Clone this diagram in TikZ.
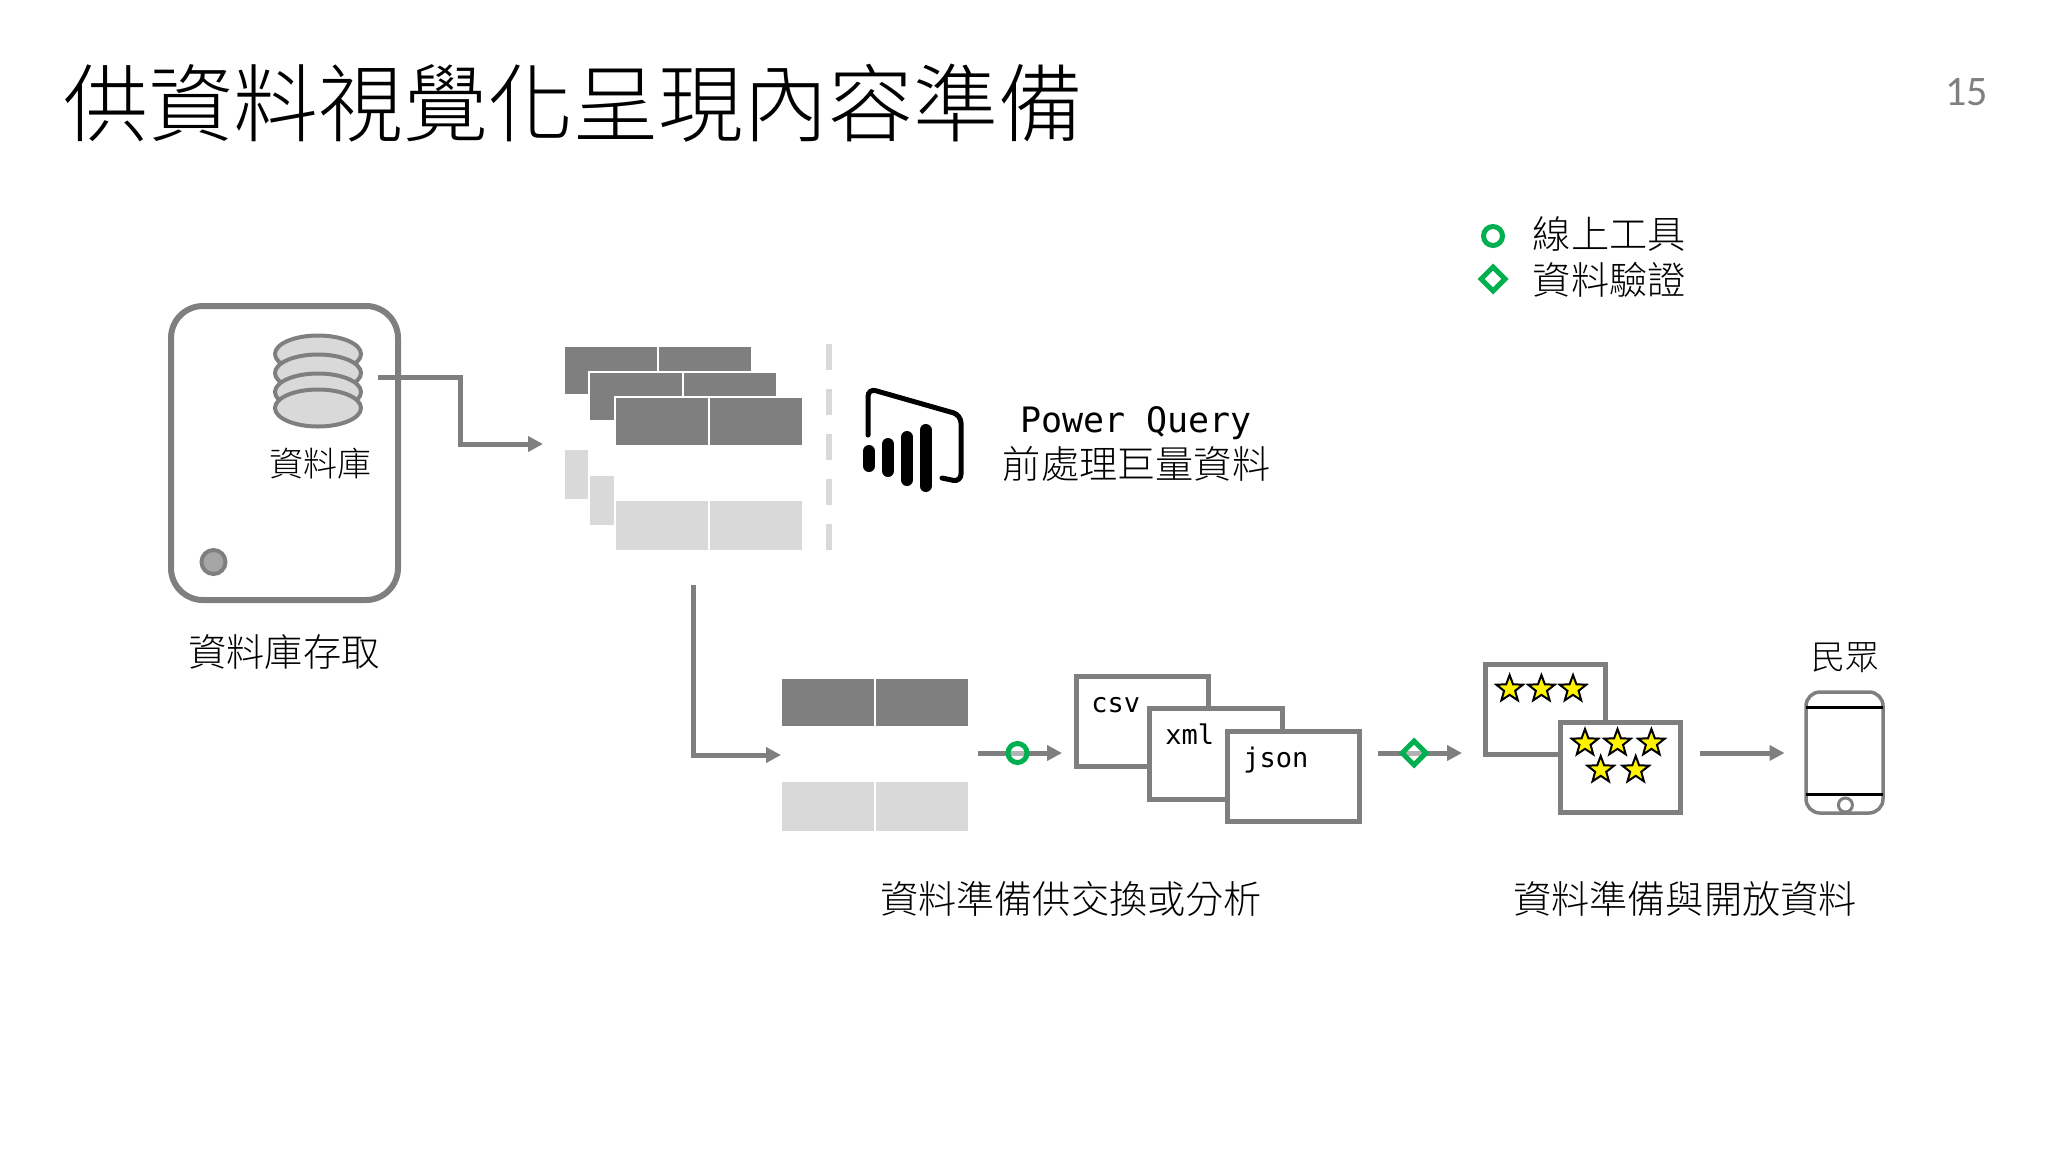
\documentclass[tikz,border=0pt]{standalone}
\usepackage{fontspec}
\usetikzlibrary{shapes,arrows,arrows.meta}
\setmonofont{DejaVu Sans Mono}
\setsansfont{Carlito}
\newfontfamily\cjk[UprightFont={* Light}]{Noto Sans CJK TC}
\definecolor{pgray}{HTML}{7F7F7F}
\definecolor{plight}{HTML}{D9D9D9}
\definecolor{pgreen}{HTML}{00B050}
\tikzstyle{input} = [coordinate]
\tikzstyle{output} = [coordinate]
\tikzstyle{link} = [draw=pgray, line width=2.5pt, ->]
\tikzstyle{label} = [inner sep=0pt, font=\cjk\fontsize{19.1}{19.1}\selectfont]
\tikzstyle{small} = [inner sep=0pt, font=\cjk\fontsize{17}{17}\selectfont]
\tikzstyle{code} = [inner sep=0pt, font=\ttfamily\fontsize{13.5}{13.5}\selectfont, anchor=base west]
\tikzstyle{device} = [draw=pgray, line width=3pt, rectangle, rounded corners=16pt,
    minimum width=113.5pt, minimum height=147pt]
\tikzstyle{disk} = [draw=pgray, fill=plight, line width=2pt, ellipse,
    minimum width=43pt, minimum height=18.5pt, inner sep=0pt]
\tikzstyle{tablebg} = [fill=white, rectangle, anchor=north west, inner sep=0pt,
    minimum width=95pt, minimum height=77pt]
\tikzstyle{headcell} = [fill=pgray, rectangle, anchor=north west, inner sep=0pt,
    minimum width=46pt, minimum height=23.5pt]
\tikzstyle{bodycell} = [fill=plight, rectangle, anchor=north west, inner sep=0pt,
    minimum width=46pt, minimum height=24.5pt]
\tikzstyle{block} = [draw=pgray, fill=white, line width=2.5pt, rectangle, inner sep=0pt]
\tikzstyle{toolmark} = [draw=pgreen, fill=white, fill opacity=.4, line width=2.5pt, circle,
    minimum size=9.5pt, inner sep=0pt]
\tikzstyle{checkmark} = [draw=pgreen, fill=white, fill opacity=.4, line width=2.5pt, diamond,
    minimum size=13pt, inner sep=0pt]
\tikzstyle{rating} = [draw=black, fill=yellow, line width=1pt, star, star points=5,
    star point ratio=2.4, minimum size=14pt, inner sep=0pt]

\begin{document}
\begin{tikzpicture}[x=0.5pt, y=-0.5pt, >={Triangle[length=7.5pt,width=7.5pt]}]
    \useasboundingbox (0,0) rectangle (2048,1152);
    % heading and page number
    \node [inner sep=0pt, font=\cjk\fontsize{42.5}{42.5}\selectfont] (title) at (573,103)
        {供資料視覺化呈現內容準備};
    \node [inner sep=0pt, anchor=base east, text=pgray,
        font=\sffamily\fontsize{21}{21}\selectfont] (pageno) at (1988,105) {15};

    % legend
    \node [toolmark] (legendtool) at (1493,236) {};
    \node [checkmark] (legendcheck) at (1493,279) {};
    \node [label, anchor=west] (legendtext) at (1532.5,234) {線上工具};
    \node [label, anchor=west] (legendtexttwo) at (1532.5,280) {資料驗證};

    % database machine
    \node [device] (machine) at (284.5,453) {};
    \foreach \n/\y in {1/354,2/373,3/392,4/408}
        \node [disk] (disk\n) at (318,\y) {};
    \node [small] (dblabel) at (320,464) {資料庫};
    \node [draw=pgray, fill=pgray!70, line width=2pt, circle, minimum size=12pt,
        inner sep=0pt] (lamp) at (213.5,562) {};
    \node [label] (dbaccess) at (284,652) {資料庫存取};

    % stacked tables
    \foreach \n/\x/\y in {a/565/347,b/590/373,c/616/398,d/782/679} {
        \node [tablebg] (bg\n) at (\x-2,\y-2) {};
        \node [headcell] (head\n) at (\x,\y) {};
        \node [headcell] (headr\n) at (\x+94,\y) {};
        \node [bodycell] (body\n) at (\x,\y+103) {};
        \node [bodycell] (bodyr\n) at (\x+94,\y+103) {};
    }
    \draw [plight, line width=3pt, dash pattern=on 13pt off 9.5pt]
        (829,344) -- (829,550);

    % power bi mark
    \draw [black, line width=2.5pt, rounded corners=4pt, line cap=round]
        (868,435) -- (868,388.5) -- (961,415) -- (961,482) -- (942,478);
    \foreach \x/\a/\b in {869/451/466,888/444/471,907/437/480,925.5/430/486}
        \draw [black, line width=6pt, line cap=round] (\x,\a) -- (\x,\b);
    \node [inner sep=0pt, anchor=base, font=\ttfamily\fontsize{17.5}{17.5}\selectfont]
        (pq) at (1136,432.5) {Power Query};
    \node [label] (pqtext) at (1136.5,464) {前處理巨量資料};

    % file boxes
    \node [block, minimum width=66.25pt, minimum height=45pt] (csv) at (1142.25,721.5) {};
    \node [block, minimum width=66.5pt, minimum height=45.5pt] (xml) at (1216,754) {};
    \node [block, minimum width=66pt, minimum height=45pt] (json) at (1293.5,776.5) {};
    \node [code] (csvtext) at (1091,712) {csv};
    \node [code] (xmltext) at (1165,744) {xml};
    \node [code] (jsontext) at (1243,767) {json};
    \node [label] (prepare) at (1071,899) {資料準備供交換或分析};

    % rated boxes
    \node [block, minimum width=60pt, minimum height=45pt] (rated) at (1545.5,709.5) {};
    \node [block, minimum width=60pt, minimum height=45pt] (ratedtwo) at (1620.5,767.5) {};
    \foreach \n/\x/\y in {1/1509.6/689,2/1541.4/689,3/1573/689,
            4/1585/743,5/1617.5/743,6/1651.4/743,7/1600.7/770,8/1635.7/770}
        \node [rating] (star\n) at (\x,\y) {};
    \node [label] (opendata) at (1685,899) {資料準備與開放資料};

    % phone
    \node [draw=pgray, line width=1.75pt, rectangle, rounded corners=7pt, outer sep=0pt,
        minimum width=38.5pt, minimum height=60.5pt] (phone) at (1844.5,752.5) {};
    \draw [black, line width=1.75pt] ([yshift=-7.85pt]phone.north west)
        -- ([yshift=-7.85pt]phone.north east);
    \draw [black, line width=1.75pt] ([yshift=9.15pt]phone.south west)
        -- ([yshift=9.15pt]phone.south east);
    \node [draw=pgray, fill=white, line width=1.5pt, circle, minimum size=7pt,
        inner sep=0pt] (homekey) at (1845.4,805) {};
    \node [small] (people) at (1845,658) {民眾};

    % connectors
    \node [input] (dbout) at (378,377) {};
    \node [input] (dbbend) at (460,444) {};
    \node [output] (tablesin) at (543,444) {};
    \node [input] (tablesout) at (693,585) {};
    \node [input] (subsetbend) at (693,755) {};
    \node [output] (subsetin) at (781,755) {};
    \node [input] (subsetout) at (977.5,753) {};
    \node [output] (filesin) at (1062,753) {};
    \node [input] (filesout) at (1378,753) {};
    \node [output] (ratedin) at (1462,753) {};
    \node [input] (ratedout) at (1700,753) {};
    \node [output] (phonein) at (1784.5,753) {};
    \draw [link] (dbout) -| (dbbend) -- (tablesin);
    \draw [link] (tablesout) -- (subsetbend) -- (subsetin);
    \draw [link] (subsetout) -- (filesin);
    \draw [link] (filesout) -- (ratedin);
    \draw [link] (ratedout) -- (phonein);
    \node [toolmark] (toolcheck) at (1017.5,753) {};
    \node [checkmark] (datacheck) at (1414,753) {};
\end{tikzpicture}
\end{document}
